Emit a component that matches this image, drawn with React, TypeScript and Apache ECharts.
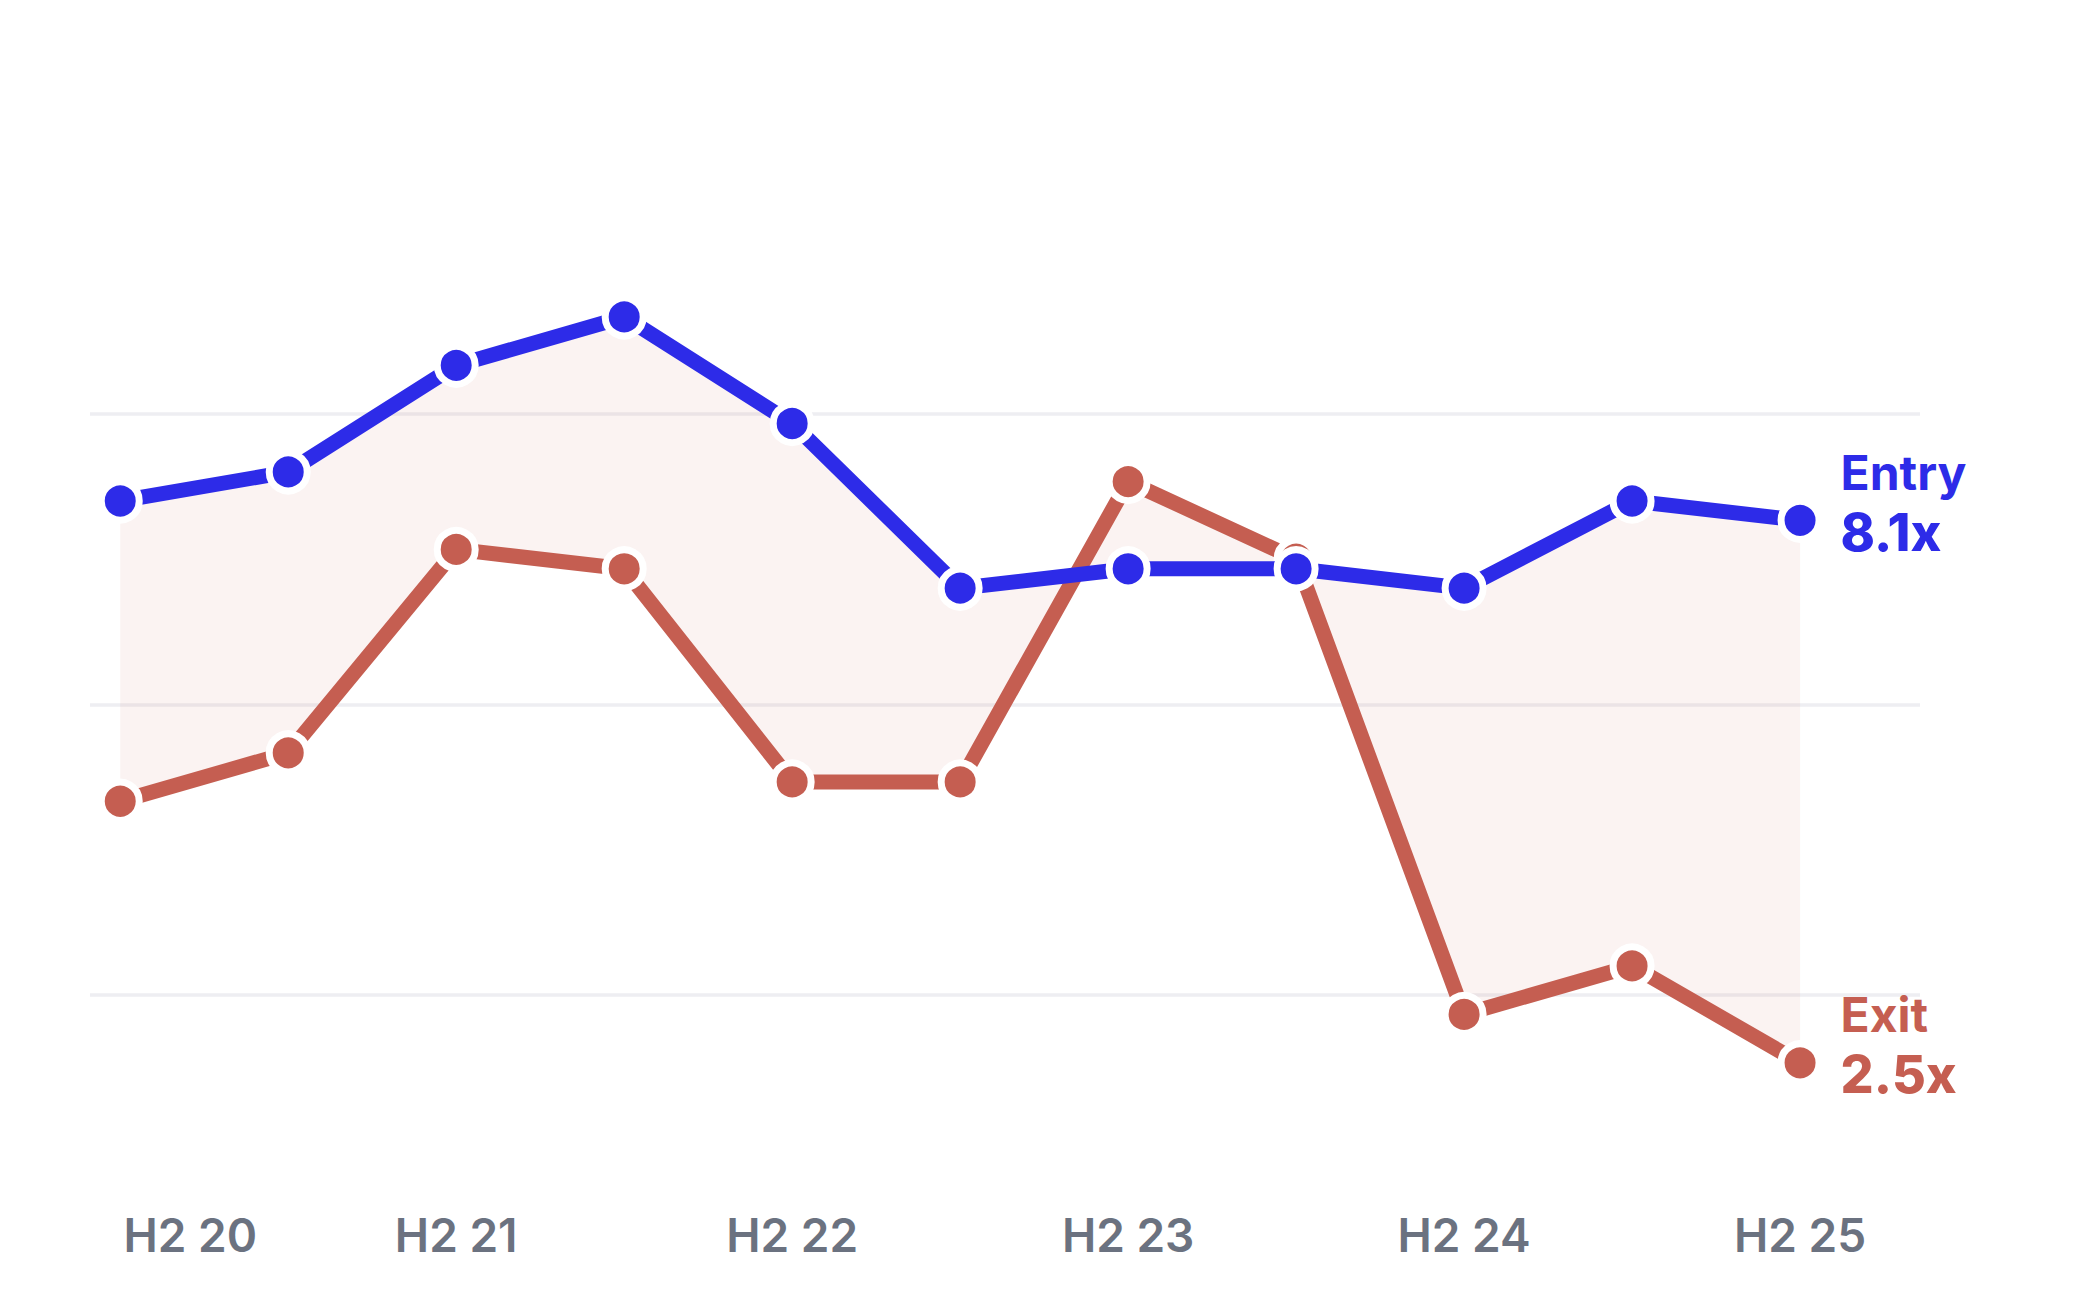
import React, { useEffect, useRef } from "react";
import * as echarts from "echarts";

// Half-year periods (one point per half-year)
const periods = ["H2 20", "H1 21", "H2 21", "H1 22", "H2 22", "H1 23", "H2 23", "H1 24", "H2 24", "H1 25", "H2 25"];
// Entry and exit multiples (x)
const entryMultiples = [8.3, 8.6, 9.7, 10.2, 9.1, 7.4, 7.6, 7.6, 7.4, 8.3, 8.1];
const exitMultiples = [5.2, 5.7, 7.8, 7.6, 5.4, 5.4, 8.5, 7.7, 3.0, 3.5, 2.5];
// Only the H2 periods carry a tick label
const labelledIdx = periods.map((p, i) => (p.startsWith("H2") ? i : -1)).filter((i) => i >= 0);

const BLUE = "#2D2BE8";
const RED = "#C55E51";
const GRAY = "#6B7280";
const FONT = "Inter, 'Noto Sans', sans-serif";

export default function App() {
  const ref = useRef<HTMLDivElement>(null);

  useEffect(() => {
    if (!ref.current) return;
    const chart = echarts.init(ref.current, undefined, { renderer: "svg" });

    const endLabel = (color: string) => ({
      show: true,
      position: "right",
      distance: 18,
      offset: [0, -18],
      align: "left",
      verticalAlign: "middle",
      formatter: (p: any) => `{n|${p.seriesName}}\n{v|${Number(p.value[1]).toFixed(1)}x}`,
      rich: {
        n: { fontFamily: FONT, fontSize: 48, fontWeight: 700, color, lineHeight: 60 },
        v: { fontFamily: FONT, fontSize: 52, fontWeight: 800, color, lineHeight: 60 },
      },
    });

    const makeData = (vals: number[], color: string) =>
      vals.map((v, i) =>
        i === vals.length - 1 ? { value: [i, v], label: endLabel(color) } : { value: [i, v] }
      );

    const option: any = {
      animation: false,
      backgroundColor: "#ffffff",
      grid: {
        left: 90,
        right: 180,
        top: 123.2,
        bottom: 16.4,
        containLabel: false,
        outerBoundsMode: "none",
      },
      xAxis: {
        type: "value",
        min: -0.18,
        max: 10.714,
        offset: -82,
        axisLine: { show: false },
        axisTick: { show: false },
        splitLine: { show: false },
        axisLabel: {
          show: true,
          customValues: labelledIdx,
          margin: 8,
          color: GRAY,
          fontFamily: FONT,
          fontSize: 46,
          fontWeight: 600,
          formatter: (v: number) => {
            const t = periods[Math.round(v)];
            return Math.round(v) === 0 ? `{p|}{l|${t}}` : `{c|${t}}`;
          },
          rich: {
            p: { width: 140 },
            l: { width: 140, align: "left", color: GRAY, fontFamily: FONT, fontSize: 46, fontWeight: 600 },
            c: { color: GRAY, fontFamily: FONT, fontSize: 46, fontWeight: 600 },
          },
        },
      },
      yAxis: {
        type: "value",
        min: 0.2,
        max: 12.2,
        interval: 3,
        axisLine: { show: false },
        axisTick: { show: false },
        axisLabel: { show: false },
        splitLine: {
          show: true,
          showMinLine: false,
          showMaxLine: false,
          lineStyle: { color: "#EEEEF2", width: 3.5 },
        },
      },
      series: [
        {
          type: "custom",
          name: "band",
          silent: true,
          z: 1,
          data: [[0, entryMultiples[0]]],
          encode: { x: 0, y: 1 },
          renderItem: (params: any, api: any) => {
            if (params.dataIndex !== 0) return null;
            const top = entryMultiples.map((v, i) => api.coord([i, v]));
            const bottom = exitMultiples.map((v, i) => api.coord([i, v])).reverse();
            return {
              type: "polygon",
              shape: { points: top.concat(bottom) },
              style: { fill: "rgba(197,94,81,0.075)", stroke: "none" },
            };
          },
        },
        {
          type: "line",
          name: "Exit",
          z: 3,
          data: makeData(exitMultiples, RED),
          symbol: "circle",
          symbolSize: 38,
          showAllSymbol: true,
          lineStyle: { color: RED, width: 15 },
          itemStyle: { color: RED, borderColor: "#ffffff", borderWidth: 7 },
          emphasis: { disabled: true },
        },
        {
          type: "line",
          name: "Entry",
          z: 4,
          data: makeData(entryMultiples, BLUE),
          symbol: "circle",
          symbolSize: 38,
          showAllSymbol: true,
          lineStyle: { color: BLUE, width: 15 },
          itemStyle: { color: BLUE, borderColor: "#ffffff", borderWidth: 7 },
          emphasis: { disabled: true },
        },
      ],
    };

    chart.setOption(option);
    return () => chart.dispose();
  }, []);

  return (
    <div
      ref={ref}
      style={{ position: "fixed", left: 0, top: 0, width: 2100, height: 1302, background: "#fff" }}
    />
  );
}
